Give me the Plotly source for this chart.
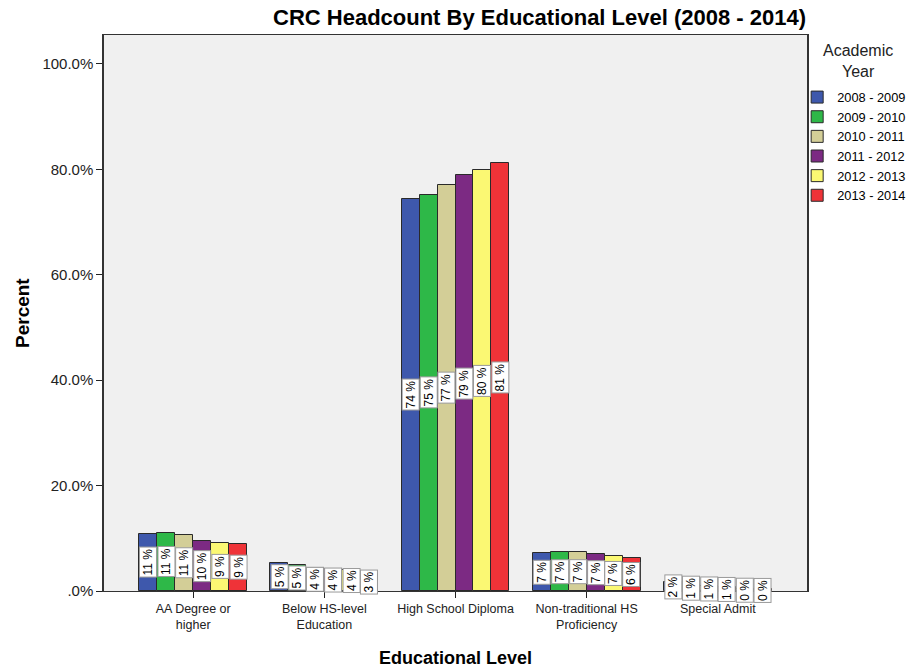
import plotly.graph_objects as go

# Educational levels (x categories) and academic years (series)
levels = ["AA Degree or higher", "Below HS-level Education", "High School Diploma",
          "Non-traditional HS Proficiency", "Special Admit"]
level_ticks = ["AA Degree or<br>higher", "Below HS-level<br>Education", "High School Diploma",
               "Non-traditional HS<br>Proficiency", "Special Admit"]
years = ["2008 - 2009", "2009 - 2010", "2010 - 2011", "2011 - 2012", "2012 - 2013", "2013 - 2014"]

# Percent of headcount per level, one list per academic year
pct_2008 = [10.9, 5.4, 74.4, 7.2, 1.7]
pct_2009 = [11.1, 4.9, 75.2, 7.4, 1.2]
pct_2010 = [10.6, 4.4, 77.0, 7.4, 0.9]
pct_2011 = [9.5, 4.1, 78.9, 7.0, 0.7]
pct_2012 = [9.2, 3.9, 79.9, 6.7, 0.4]
pct_2013 = [8.9, 3.3, 81.2, 6.3, 0.3]
series = [pct_2008, pct_2009, pct_2010, pct_2011, pct_2012, pct_2013]

colors = ["#3E58AC", "#2EB848", "#D3CE97", "#7C2A83", "#FBF873", "#EF3338"]

y_ticks = [0, 20, 40, 60, 80, 100]
y_tick_text = [".0%", "20.0%", "40.0%", "60.0%", "80.0%", "100.0%"]

bar_w = 0.137
font_family = "Liberation Sans, Arial, sans-serif"

fig = go.Figure()
annotations = []
n = len(years)
for j, (yr, vals, col) in enumerate(zip(years, series, colors)):
    xs = [i + (j - (n - 1) / 2) * bar_w for i in range(len(levels))]
    fig.add_trace(go.Bar(
        x=xs, y=vals, width=bar_w, name=yr,
        marker=dict(color=col, line=dict(color="#2a2a2a", width=1)),
        hovertext=levels, hoverinfo="text+y+name",
    ))
    # value labels, rotated, in white boxes at mid-height of each bar
    for x, v in zip(xs, vals):
        annotations.append(dict(
            x=x, y=v / 2, xref="x", yref="y",
            text=f"{round(v):d} %", showarrow=False, textangle=-90,
            font=dict(family=font_family, size=12, color="#000"),
            bgcolor="white", bordercolor="#9a9a9a", borderwidth=1, borderpad=1,
            xanchor="center", yanchor="middle",
        ))

# chart title
annotations.append(dict(
    text="<b>CRC Headcount By Educational Level (2008 - 2014)</b>",
    xref="paper", yref="paper", x=0.62, y=1.0, yshift=3,
    xanchor="center", yanchor="bottom", showarrow=False,
    font=dict(family=font_family, size=22, color="#000"),
))
# axis titles
annotations.append(dict(
    text="<b>Educational Level</b>", xref="paper", yref="paper",
    x=0.5, y=0, yshift=-55, xanchor="center", yanchor="top", showarrow=False,
    font=dict(family=font_family, size=18, color="#000"),
))
annotations.append(dict(
    text="<b>Percent</b>", xref="paper", yref="paper", textangle=-90,
    x=0, y=0.5, xshift=-82, xanchor="center", yanchor="middle", showarrow=False,
    font=dict(family=font_family, size=19, color="#000"),
))
# legend heading
annotations.append(dict(
    text="Academic<br>Year", xref="paper", yref="paper",
    x=1.0725, y=1.0, yshift=-5, xanchor="center", yanchor="top", showarrow=False,
    font=dict(family=font_family, size=16, color="#222"),
))

fig.update_layout(
    width=923, height=668,
    margin=dict(l=104, r=116, t=35, b=77, autoexpand=False),
    paper_bgcolor="white", plot_bgcolor="#F0F0F0",
    barmode="overlay", bargap=0,
    font=dict(family=font_family, size=12, color="#222"),
    showlegend=True,
    legend=dict(
        x=0.986, y=0.915, xanchor="left", yanchor="top",
        font=dict(size=12.8, color="#000"),
        tracegroupgap=0, itemclick=False,
        bgcolor="rgba(0,0,0,0)",
    ),
    annotations=annotations,
    xaxis=dict(
        range=[-0.68, 4.68], automargin=False,
        tickvals=list(range(len(levels))), ticktext=level_ticks,
        ticks="outside", ticklen=6, tickcolor="#222",
        showline=True, linecolor="#333", linewidth=1, mirror=True,
        showgrid=False, zeroline=False,
        tickfont=dict(size=12.5, color="#222"),
    ),
    yaxis=dict(
        range=[0, 105.5], automargin=False,
        tickvals=y_ticks, ticktext=y_tick_text,
        ticks="outside", ticklen=6, tickcolor="#222",
        showline=True, linecolor="#333", linewidth=1.5, mirror=True,
        showgrid=False, zeroline=False,
        tickfont=dict(size=15, color="#222"),
    ),
)

fig.write_html("out.html")
